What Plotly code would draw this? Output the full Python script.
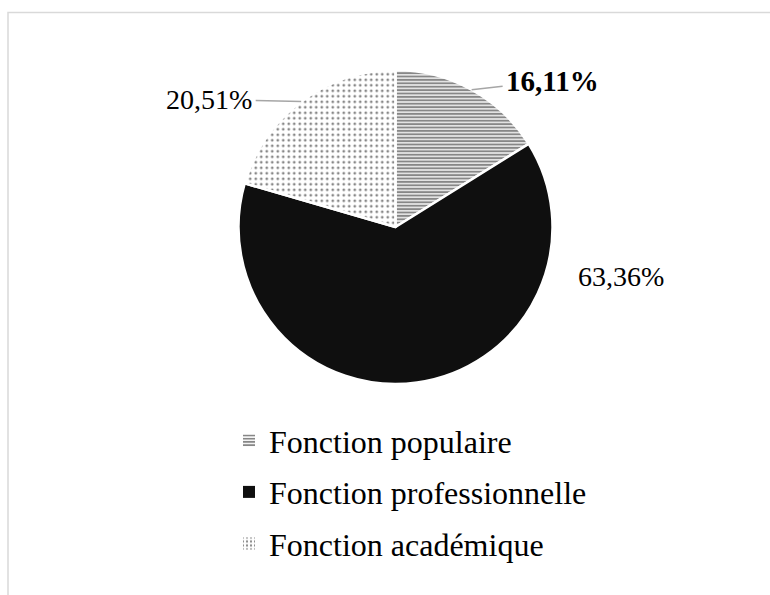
import math
import plotly.graph_objects as go

# Répartition des fonctions (en %)
categories = ["Fonction populaire", "Fonction professionnelle", "Fonction académique"]
values = [16.11, 63.36, 20.51]
bold_label = [True, False, False]

W, H = 770, 595
# pie geometry in pixels (centre and radius)
CX, CY, R = 395.5, 227.0, 157.0

INK = "#0f0f0f"
colors = ["white", INK, "white"]
pat_shape = ["-", "", "."]
pat_fg = [INK, INK, INK]
pat_bg = ["white", INK, "white"]
pat_size = [3.4, 8, 5.5]
pat_solidity = [0.62, 0.3, 0.2]

fig = go.Figure()
fig.add_trace(
    go.Pie(
        labels=categories,
        values=values,
        sort=False,
        direction="clockwise",
        rotation=0,
        textinfo="none",
        hoverinfo="label+percent",
        showlegend=False,
        marker=dict(
            colors=colors,
            line=dict(color="white", width=2.5),
            pattern=dict(shape=pat_shape, fgcolor=pat_fg, bgcolor=pat_bg,
                         size=pat_size, solidity=pat_solidity, fillmode="overlay"),
        ),
        domain=dict(
            x=[(CX - R) / W, (CX + R) / W],
            y=[1 - (CY + R) / H, 1 - (CY - R) / H],
        ),
    )
)

# legend entries (one group per category so the rows can be spaced apart)
for i, name in enumerate(categories):
    fig.add_trace(
        go.Bar(
            x=[None], y=[None], name=name, legendgroup=name,
            hoverinfo="skip",
            marker=dict(
                color=colors[i], line=dict(width=0),
                pattern=dict(shape=pat_shape[i], fgcolor=pat_fg[i], bgcolor=pat_bg[i],
                             size=4 if i == 0 else 5, solidity=0.55 if i == 0 else 0.25,
                             fillmode="overlay"),
            ),
        )
    )

# data labels: anchored on the outer edge at each slice's mid-angle
label_offsets = [(81, -9, True), (204, -106, False), (-92, -2, True)]
total = sum(values)
cum = 0.0
annotations = []
for v, bold, (dx, dy, arrow) in zip(values, bold_label, label_offsets):
    theta = (cum + v / 2) / total * 2 * math.pi
    cum += v
    px = CX + R * math.sin(theta)
    py = CY - R * math.cos(theta)
    txt = f"{v:.2f}".replace(".", ",") + "%"
    if bold:
        txt = f"<b>{txt}</b>"
    ann = dict(
        x=px / W, y=1 - py / H, xref="paper", yref="paper",
        text=txt, font=dict(family="Liberation Serif", size=29 if bold else 28, color="black"),
    )
    if arrow:
        ann.update(showarrow=True, ax=dx, ay=dy, arrowhead=0, arrowwidth=1.5,
                   arrowcolor="#a6a6a6", standoff=0, startstandoff=2)
    else:
        ann.update(showarrow=False, xshift=dx, yshift=-dy)
    annotations.append(ann)

fig.update_layout(
    width=W, height=H,
    margin=dict(l=0, r=0, t=0, b=0),
    paper_bgcolor="white",
    plot_bgcolor="white",
    font=dict(family="Liberation Serif", color="black"),
    annotations=annotations,
    showlegend=True,
    xaxis=dict(visible=False),
    yaxis=dict(visible=False),
    legend=dict(
        x=229 / W, y=1 - 413 / H, xanchor="left", yanchor="top",
        font=dict(family="Liberation Serif", size=32, color="black"),
        bgcolor="rgba(0,0,0,0)",
        tracegroupgap=7,
        itemclick=False, itemdoubleclick=False,
    ),
    shapes=[
        dict(type="rect", xref="paper", yref="paper",
             x0=8 / W, x1=1.02, y0=-0.02, y1=1 - 12.5 / H,
             line=dict(color="#d9d9d9", width=1.5), fillcolor="rgba(0,0,0,0)"),
    ],
)

fig.write_html("out.html")
